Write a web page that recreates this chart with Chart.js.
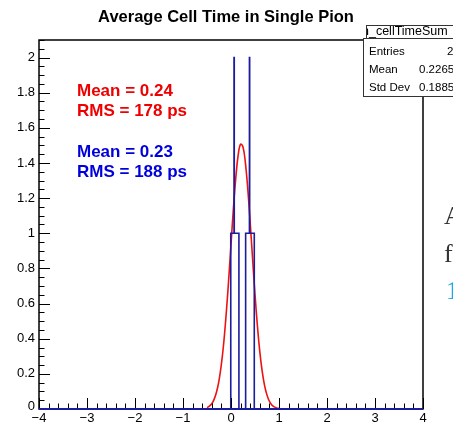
<!DOCTYPE html>
<html>
<head>
<meta charset="utf-8">
<script src="https://cdn.jsdelivr.net/npm/chart.js@4.4.1/dist/chart.umd.min.js"></script>
<style>
  html, body { margin: 0; padding: 0; background: #fff; }
  #wrap { width: 453px; height: 426px; position: relative; }
</style>
</head>
<body>
<div id="wrap"><canvas id="cellTimeChart"></canvas></div>
<script>
// histogram: bin edges and contents (stepped outline)
const histEdges = [-4, -0.005, 0.063, 0.068, 0.165, 0.305, 0.384, 0.389, 0.485, 4];
const histCounts = [0, 1, 2, 1, 0, 1, 2, 1, 0, 0];

// gaussian fit curve
const fitX = [-0.5, -0.45, -0.4, -0.35, -0.3, -0.25, -0.2, -0.15, -0.1, -0.05, 0, 0.05, 0.1, 0.15, 0.2,
  0.25, 0.3, 0.35, 0.4, 0.45, 0.5, 0.55, 0.6, 0.65, 0.7, 0.75, 0.8, 0.85, 0.9, 0.95, 1.0];
const fitY = [0.008, 0.016, 0.03, 0.056, 0.098, 0.162, 0.255, 0.38, 0.542, 0.73, 0.937, 1.14, 1.317, 1.446, 1.507,
  1.491, 1.401, 1.251, 1.061, 0.854, 0.653, 0.474, 0.327, 0.214, 0.133, 0.079, 0.044, 0.023, 0.012, 0.006, 0.003];

const xTicks = [-4, -3, -2, -1, 0, 1, 2, 3, 4];
const xTickLabels = ['\u22124', '\u22123', '\u22122', '\u22121', '0', '1', '2', '3', '4'];
const yTicks = [0, 0.2, 0.4, 0.6, 0.8, 1, 1.2, 1.4, 1.6, 1.8, 2];
const yTickLabels = ['0', '0.2', '0.4', '0.6', '0.8', '1', '1.2', '1.4', '1.6', '1.8', '2'];

const statNames = ['Entries', 'Mean', 'Std Dev'];
const statValues = ['24', '0.2265', '0.1885'];

const SANS = '"Liberation Sans", Arial, sans-serif';

const rootFrame = {
  id: 'rootFrame',
  afterDatasetsDraw(chart) {
    const { ctx, chartArea: a, scales: { x, y } } = chart;
    ctx.save();
    ctx.strokeStyle = '#000';
    ctx.lineWidth = 1;
    // ticks inside the frame
    ctx.beginPath();
    for (let v = -4; v <= 4.001; v += 0.2) {
      const px = Math.round(x.getPixelForValue(v)) + 0.5;
      const major = Math.abs(v - Math.round(v)) < 0.01;
      ctx.moveTo(px, a.bottom);
      ctx.lineTo(px, a.bottom - (major ? 11 : 5.5));
    }
    for (let v = 0; v <= 2.101; v += 0.05) {
      const py = Math.round(y.getPixelForValue(v)) + 0.5;
      const major = Math.abs(v / 0.2 - Math.round(v / 0.2)) < 0.01;
      ctx.moveTo(a.left, py);
      ctx.lineTo(a.left + (major ? 11 : 5.5), py);
    }
    ctx.stroke();
    // frame
    ctx.lineWidth = 1.5;
    ctx.strokeRect(a.left, a.top, a.right - a.left, a.bottom - a.top);
    // histogram baseline over the frame bottom
    ctx.strokeStyle = '#1c1c9e';
    ctx.lineWidth = 2;
    ctx.beginPath();
    ctx.moveTo(a.left, a.bottom);
    ctx.lineTo(a.right, a.bottom);
    ctx.stroke();

    // tick labels
    ctx.fillStyle = '#000';
    ctx.font = '13px ' + SANS;
    ctx.textAlign = 'center';
    ctx.textBaseline = 'top';
    xTicks.forEach((v, i) => ctx.fillText(xTickLabels[i], x.getPixelForValue(v), a.bottom + 3));
    ctx.textAlign = 'right';
    ctx.textBaseline = 'middle';
    yTicks.forEach((v, i) => ctx.fillText(yTickLabels[i], a.left - 4, y.getPixelForValue(v) - (v === 0 ? 3 : 0)));

    // title
    ctx.font = 'bold 16.5px ' + SANS;
    ctx.textAlign = 'center';
    ctx.textBaseline = 'alphabetic';
    ctx.fillText('Average Cell Time in Single Pion', 226, 22);

    // mean / rms annotations
    ctx.textAlign = 'left';
    ctx.font = 'bold 17px ' + SANS;
    ctx.fillStyle = '#ee0000';
    ctx.fillText('Mean = 0.24', 77, 96);
    ctx.fillText('RMS = 178 ps', 77, 116);
    ctx.fillStyle = '#0000dd';
    ctx.fillText('Mean = 0.23', 77, 157);
    ctx.fillText('RMS = 188 ps', 77, 177);

    // stats box
    ctx.fillStyle = '#fff';
    ctx.fillRect(363, 38, 95, 59);
    ctx.fillRect(366, 25, 92, 13);
    ctx.strokeStyle = '#333';
    ctx.lineWidth = 1;
    ctx.strokeRect(363.5, 38.5, 95, 58);
    ctx.strokeRect(366.5, 25.5, 92, 13);
    ctx.save();
    ctx.beginPath();
    ctx.rect(367, 26, 90, 12);
    ctx.clip();
    ctx.fillStyle = '#000';
    ctx.font = '12.5px ' + SANS;
    ctx.fillText('h_cellTimeSum', 362, 35);
    ctx.restore();
    ctx.fillStyle = '#000';
    ctx.font = '11.5px ' + SANS;
    statNames.forEach((n, i) => {
      const by = 55 + i * 18;
      ctx.textAlign = 'left';
      ctx.fillText(n, 369, by);
      ctx.fillText(statValues[i], i === 0 ? 447 : 419, by);
    });

    // slide text peeking in on the right
    ctx.font = '26px "Liberation Serif", "DejaVu Serif", serif';
    ctx.fillStyle = '#333';
    ctx.fillText('A', 444, 224);
    ctx.fillText('f', 444, 262);
    ctx.fillStyle = '#1aa9e6';
    ctx.fillText('1', 446, 299);
    ctx.restore();
  }
};

function drawCellTimeChart() {
  const ctx = document.getElementById('cellTimeChart').getContext('2d');
  new Chart(ctx, {
    type: 'line',
    data: {
      datasets: [
        {
          label: 'h_cellTimeSum',
          data: histEdges.map((e, i) => ({ x: e, y: histCounts[i] })),
          stepped: 'before',
          borderColor: '#1c1c9e',
          borderWidth: 1.6,
          pointRadius: 0,
          fill: false
        },
        {
          label: 'fit',
          data: fitX.map((v, i) => ({ x: v, y: fitY[i] })),
          borderColor: '#ee1111',
          borderWidth: 1.6,
          tension: 0.4,
          pointRadius: 0,
          fill: false
        }
      ]
    },
    options: {
      responsive: true,
      maintainAspectRatio: false,
      animation: false,
      layout: { padding: { left: 39, right: 30, top: 40, bottom: 17 } },
      scales: {
        x: { type: 'linear', min: -4, max: 4, display: false },
        y: { min: 0, max: 2.1, display: false }
      },
      plugins: {
        legend: { display: false },
        tooltip: { enabled: false }
      }
    },
    plugins: [rootFrame]
  });
}
drawCellTimeChart();
</script>
</body>
</html>
